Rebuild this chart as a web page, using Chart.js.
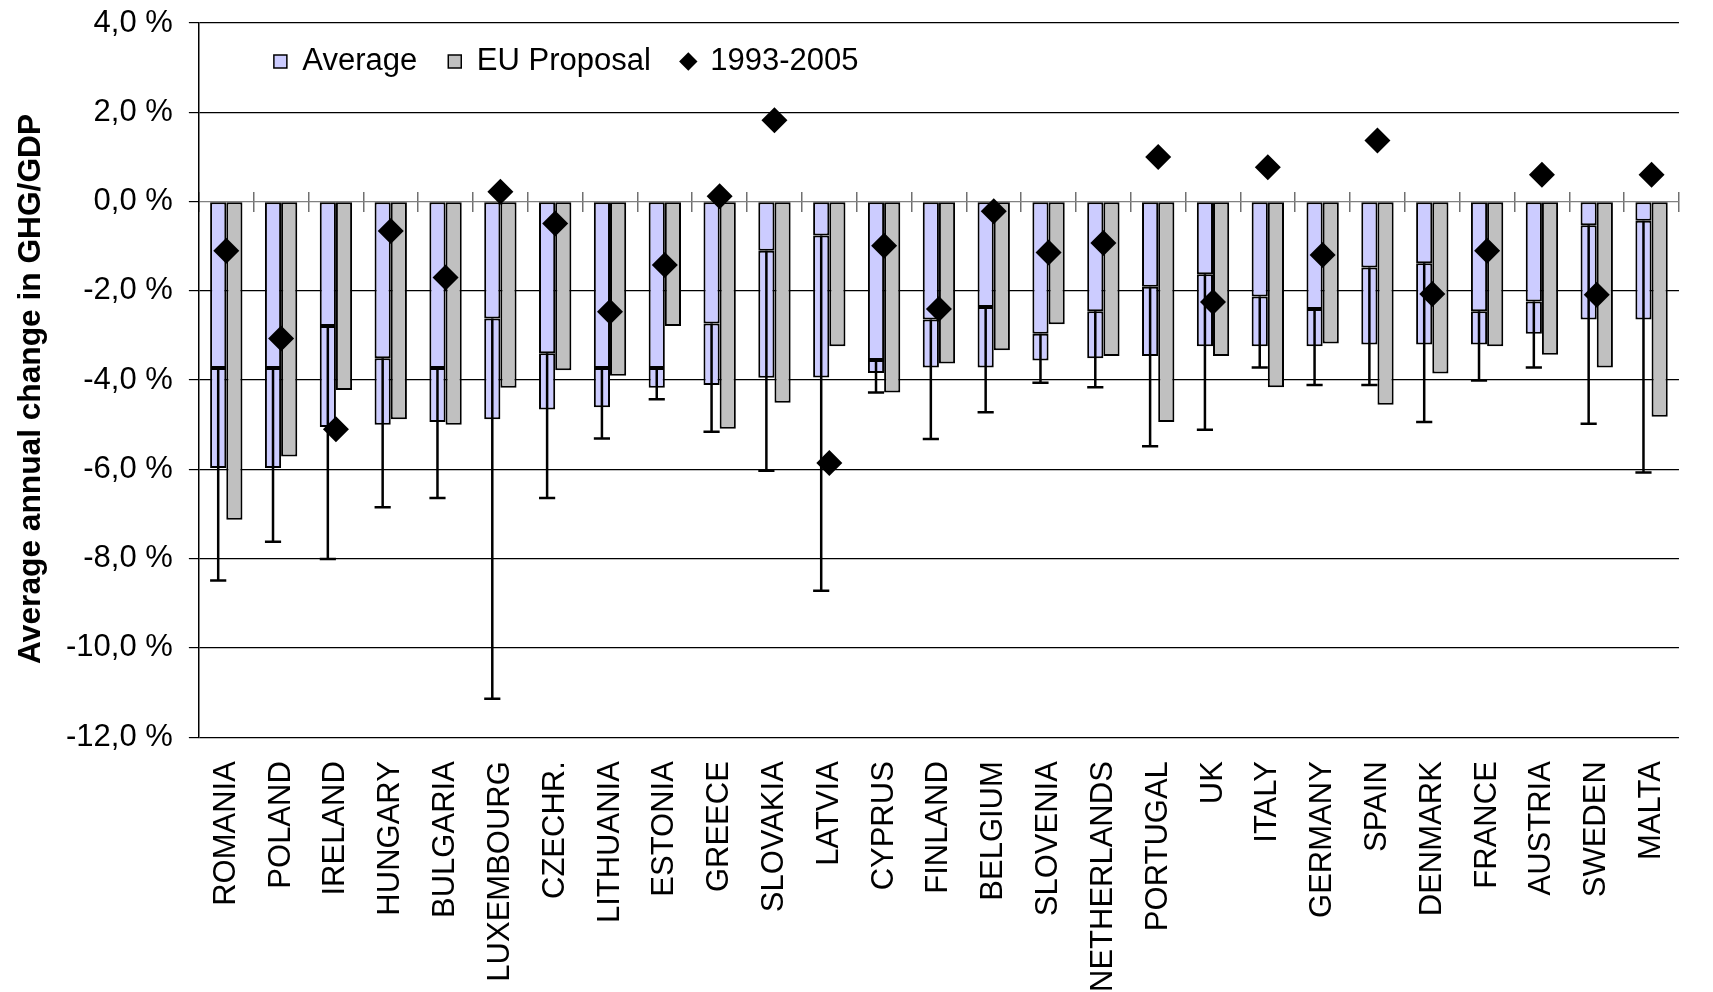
<!DOCTYPE html>
<html>
<head>
<meta charset="utf-8">
<script src="https://cdn.jsdelivr.net/npm/chart.js@4.4.1/dist/chart.umd.min.js"></script>
<style>
  html, body { margin: 0; padding: 0; background: #ffffff; }
  #wrap { width: 1713px; height: 992px; position: relative; }
</style>
</head>
<body>
<div id="wrap"><canvas id="chart"></canvas></div>
<script>
// ---- data ----
const countries = ['ROMANIA', 'POLAND', 'IRELAND', 'HUNGARY', 'BULGARIA', 'LUXEMBOURG', 'CZECHR.', 'LITHUANIA',
  'ESTONIA', 'GREECE', 'SLOVAKIA', 'LATVIA', 'CYPRUS', 'FINLAND', 'BELGIUM', 'SLOVENIA', 'NETHERLANDS',
  'PORTUGAL', 'UK', 'ITALY', 'GERMANY', 'SPAIN', 'DENMARK', 'FRANCE', 'AUSTRIA', 'SWEDEN', 'MALTA'];

// upper part of the "Average" bar (0 -> value)
const averageUpper = [-3.73, -3.73, -2.79, -3.51, -3.73, -2.62, -3.40, -3.73, -3.73, -2.73, -1.10, -0.76, -3.55,
  -2.64, -2.36, -2.96, -2.46, -1.91, -1.63, -2.13, -2.41, -1.48, -1.38, -2.46, -2.24, -0.53, -0.43];
// lower end of the "Average" bar
const averageLower = [-5.97, -5.97, -5.05, -5.00, -4.94, -4.88, -4.66, -4.61, -4.17, -4.11, -3.95, -3.94, -3.84,
  -3.72, -3.72, -3.56, -3.51, -3.46, -3.24, -3.24, -3.24, -3.20, -3.20, -3.20, -2.96, -2.64, -2.64];
// end of the error whisker (starts at averageUpper)
const averageErrorEnd = [-8.49, -7.62, -8.01, -6.85, -6.64, -11.14, -6.64, -5.31, -4.43, -5.16, -6.03, -8.72, -4.28,
  -5.32, -4.72, -4.06, -4.16, -5.48, -5.11, -3.72, -4.11, -4.11, -4.94, -4.01, -3.72, -4.98, -6.07];
const euProposal = [-7.13, -5.71, -4.22, -4.88, -5.00, -4.17, -3.78, -3.90, -2.79, -5.09, -4.51, -3.24, -4.28,
  -3.63, -3.33, -2.75, -3.46, -4.94, -3.46, -4.16, -3.18, -4.55, -3.85, -3.24, -3.43, -3.72, -4.82];
const trend1993to2005 = [-1.10, -3.07, -5.10, -0.66, -1.70, 0.22, -0.49, -2.47, -1.42, 0.12, 1.82, -5.86, -0.99,
  -2.41, -0.22, -1.14, -0.93, 1.00, -2.25, 0.77, -1.20, 1.37, -2.07, -1.10, 0.60, -2.09, 0.60];

const yMin = -12, yMax = 4, yStep = 2;
const yAxisTitle = 'Average annual change in GHG/GDP';
const formatPct = v => v.toFixed(1).replace('.', ',') + ' %';

// ---- styling ----
Chart.defaults.font.family = '"Liberation Sans", Arial, Helvetica, sans-serif';
Chart.defaults.color = '#000000';
const FONT = 31;

const errorBarPlugin = {
  id: 'averageErrorBars',
  afterDatasetDraw(chart, args) {
    if (args.index !== 1) return;
    const meta = chart.getDatasetMeta(1);
    const ys = chart.scales.y;
    const ctx = chart.ctx;
    ctx.save();
    ctx.strokeStyle = '#000000';
    ctx.lineWidth = 2.5;
    meta.data.forEach((bar, i) => {
      const x = bar.x;
      const half = bar.width / 2;
      const yStart = ys.getPixelForValue(averageUpper[i]);
      const yEnd = ys.getPixelForValue(averageErrorEnd[i]);
      ctx.beginPath();
      ctx.moveTo(x, yStart);
      ctx.lineTo(x, yEnd);
      ctx.moveTo(x - half, yEnd);
      ctx.lineTo(x + half, yEnd);
      ctx.stroke();
    });
    ctx.restore();
  }
};

// legend sits inside the plot area, in one row
const legendOffset = { x: 44, y: -8 };
const legendMovePlugin = {
  id: 'legendMove',
  beforeLayout(chart) {
    if (chart.legend) chart.legend.isHorizontal = () => true;
  },
  afterLayout(chart) {
    const lg = chart.legend;
    if (!lg) return;
    const w = lg.right - lg.left;
    const h = lg.bottom - lg.top;
    lg.left = chart.chartArea.left + legendOffset.x;
    lg.right = lg.left + w;
    lg.top = chart.chartArea.top + legendOffset.y;
    lg.bottom = lg.top + h;
  }
};

const legendRank = { 1: 0, 3: 1, 0: 2 };

new Chart(document.getElementById('chart'), {
  type: 'bar',
  data: {
    labels: countries,
    datasets: [
      {
        type: 'line',
        label: '1993-2005',
        data: trend1993to2005,
        showLine: false,
        pointStyle: 'rectRot',
        pointRadius: 13,
        pointHoverRadius: 13,
        backgroundColor: '#000000',
        borderColor: '#000000',
        borderWidth: 0,
        order: 0
      },
      {
        label: 'Average',
        data: averageUpper,
        stack: 'avg',
        backgroundColor: '#CCCCFF',
        borderColor: '#000000',
        borderWidth: 2,
        borderSkipped: false,
        pointStyle: 'rect',
        order: 1
      },
      {
        label: 'Average (range)',
        data: averageUpper.map((a, i) => [a, averageLower[i]]),
        stack: 'avg',
        backgroundColor: '#CCCCFF',
        borderColor: '#000000',
        borderWidth: 2,
        borderSkipped: false,
        pointStyle: 'rect',
        order: 1
      },
      {
        label: 'EU Proposal',
        data: euProposal,
        stack: 'eu',
        backgroundColor: '#C0C0C0',
        borderColor: '#000000',
        borderWidth: 2,
        borderSkipped: false,
        pointStyle: 'rect',
        order: 1
      }
    ]
  },
  options: {
    responsive: true,
    maintainAspectRatio: false,
    animation: false,
    events: [],
    datasets: { bar: { categoryPercentage: 0.59, barPercentage: 1.0 } },
    layout: { padding: { left: 12, right: 0, top: 23, bottom: -24 } },
    plugins: {
      tooltip: { enabled: false },
      legend: {
        position: 'chartArea',
        align: 'start',
        labels: {
          usePointStyle: true,
          boxWidth: 13,
          boxHeight: 13,
          padding: 31,
          color: '#000000',
          font: { size: FONT },
          generateLabels(chart) {
            const items = Chart.defaults.plugins.legend.labels.generateLabels(chart);
            return items
              .filter(it => it.datasetIndex !== 2)
              .sort((a, b) => legendRank[a.datasetIndex] - legendRank[b.datasetIndex])
              .map(it => {
                it.pointStyle = it.datasetIndex === 0 ? 'rectRot' : 'rect';
                it.lineWidth = it.datasetIndex === 0 ? 0 : 1.5;
                return it;
              });
          }
        }
      }
    },
    scales: {
      x: {
        type: 'category',
        offset: true,
        grid: { display: false, drawTicks: false, offset: true },
        border: { display: false },
        ticks: {
          color: '#000000',
          font: { size: FONT },
          minRotation: 90,
          maxRotation: 90,
          autoSkip: false,
          padding: 24
        }
      },
      xTicks: {
        axis: 'x',
        type: 'category',
        position: { y: 0.225 },
        offset: true,
        grid: { offset: true, drawOnChartArea: false, drawTicks: true, tickLength: 20, color: '#707070', lineWidth: 1.5 },
        border: { display: false },
        ticks: { display: false }
      },
      y: {
        min: yMin,
        max: yMax,
        stacked: false,
        afterFit(scale) {
          scale.paddingTop = 0;
          scale.paddingBottom = 0;
        },
        ticks: {
          stepSize: yStep,
          color: '#000000',
          font: { size: FONT },
          padding: 16,
          callback: v => formatPct(v)
        },
        grid: {
          color: c => (c.tick && c.tick.value === 0 ? '#808080' : '#000000'),
          lineWidth: 1.2,
          tickLength: 10,
          tickColor: '#000000'
        },
        border: { color: '#000000', width: 1.5 },
        title: {
          display: true,
          text: yAxisTitle + '  ',
          color: '#000000',
          font: { size: 31.7, weight: 'bold' },
          padding: { top: 0, bottom: 0 }
        }
      }
    }
  },
  plugins: [errorBarPlugin, legendMovePlugin]
});
</script>
</body>
</html>
